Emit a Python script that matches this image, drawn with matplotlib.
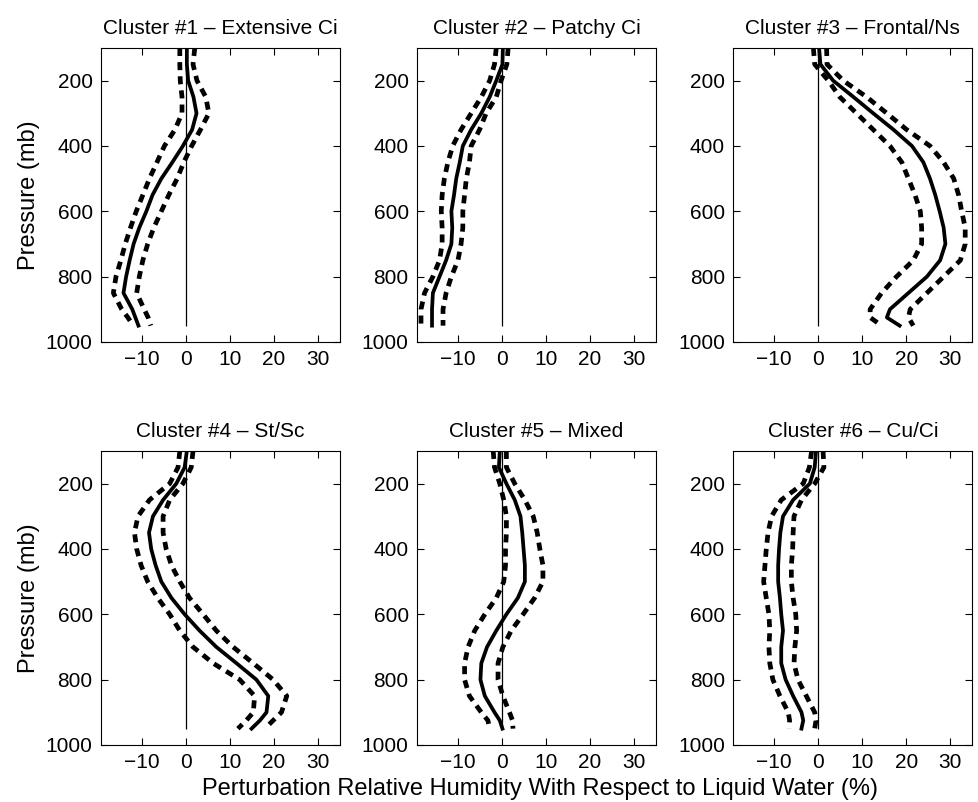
import numpy as np
import matplotlib
matplotlib.use('Agg')
import matplotlib.pyplot as plt

plt.rcParams['font.family'] = ['Liberation Sans', 'DejaVu Sans']
plt.rcParams['font.size'] = 13

# pressure levels (mb)
pres = [100, 150, 200, 250, 300, 350, 400, 450, 500, 550, 600, 650, 700, 750, 800, 850, 900, 925, 950]

titles = ['Cluster #1 \u2013 Extensive Ci', 'Cluster #2 \u2013 Patchy Ci', 'Cluster #3 \u2013 Frontal/Ns',
          'Cluster #4 \u2013 St/Sc', 'Cluster #5 \u2013 Mixed', 'Cluster #6 \u2013 Cu/Ci']

# perturbation RH (%) : mean, lower and upper bounds
c1_mean = [0.2, 0.2, 0.5, 1.7, 2.4, 1.4, -0.7, -3.1, -5.6, -7.6, -9.0, -10.6, -11.9, -12.8, -13.6, -14.2, -12.2, -11.5, -10.8]
c1_low = [-1.4, -1.4, -1.3, -0.9, -0.9, -2.5, -4.9, -6.6, -8.3, -9.8, -11.3, -12.6, -13.8, -14.8, -15.9, -16.5, -14.6, -13.2, -12.0]
c1_high = [2.0, 1.6, 2.5, 4.5, 5.2, 3.3, 1.3, -0.5, -2.0, -3.9, -5.6, -7.3, -8.7, -9.8, -10.6, -11.2, -9.5, -8.6, -8.0]

c2_mean = [0.2, 0.1, -1.3, -2.8, -4.7, -7.0, -8.9, -9.6, -10.4, -10.9, -11.5, -11.3, -11.5, -12.7, -14.2, -15.7, -15.9, -15.9, -15.9]
c2_low = [-1.3, -1.7, -2.8, -4.7, -7.0, -9.3, -11.2, -12.3, -13.1, -13.6, -13.8, -13.6, -13.6, -14.2, -15.7, -17.6, -18.4, -18.4, -18.4]
c2_high = [1.4, 1.1, -0.2, -1.3, -3.6, -5.1, -7.0, -7.4, -8.1, -8.5, -8.9, -8.9, -9.3, -10.0, -11.5, -12.7, -13.4, -13.4, -13.4]

c3_mean = [0.2, 0.5, 3.4, 8.0, 12.5, 17.1, 21.3, 23.9, 25.4, 26.6, 27.6, 28.5, 28.9, 27.7, 24.7, 20.5, 16.3, 15.6, 18.5]
c3_low = [-1.1, -0.8, 2.3, 4.9, 8.7, 12.5, 16.3, 19.0, 20.5, 22.0, 23.2, 23.5, 23.5, 21.6, 17.8, 14.4, 11.8, 11.8, 14.4]
c3_high = [1.9, 2.0, 5.7, 11.0, 15.6, 20.1, 25.4, 28.5, 30.8, 31.9, 32.6, 33.4, 33.4, 32.3, 28.5, 24.7, 20.9, 20.5, 21.6]

c4_mean = [0.2, -0.3, -2.2, -5.2, -7.5, -8.4, -7.9, -6.9, -5.6, -3.3, -0.3, 3.1, 6.9, 11.5, 16.0, 18.7, 18.3, 16.8, 14.9]
c4_low = [-1.4, -1.8, -3.7, -8.3, -10.9, -11.7, -11.2, -10.2, -8.7, -6.4, -3.7, -1.4, 1.6, 6.2, 12.2, 15.6, 15.3, 13.7, 11.8]
c4_high = [1.6, 1.2, -0.7, -3.7, -5.2, -5.2, -4.5, -3.3, -1.4, 0.8, 3.9, 6.9, 10.7, 15.3, 19.8, 22.9, 21.7, 19.8, 17.9]

c5_mean = [-0.5, -0.7, 1.0, 2.9, 4.2, 4.6, 4.9, 5.2, 5.2, 3.6, 1.0, -1.3, -3.4, -4.7, -4.9, -3.9, -1.7, -0.5, 0.1]
c5_low = [-2.0, -1.7, -0.5, 0.4, 1.0, 1.0, 0.8, 0.8, 0.4, -1.3, -3.9, -6.2, -7.7, -8.5, -8.5, -7.4, -4.7, -3.2, -2.8]
c5_high = [1.0, 1.0, 2.9, 5.2, 7.1, 8.0, 8.6, 9.3, 9.3, 7.4, 4.8, 2.1, 0.2, -0.9, -0.9, 0.2, 1.7, 2.4, 2.5]

c6_mean = [-0.5, -0.8, -1.9, -5.7, -8.0, -8.6, -8.9, -9.1, -9.1, -8.7, -8.4, -8.0, -8.4, -8.4, -7.4, -5.7, -3.8, -3.4, -3.8]
c6_low = [-1.5, -2.0, -3.4, -8.4, -10.6, -11.4, -11.8, -12.1, -12.4, -11.8, -11.2, -11.0, -11.2, -11.0, -10.3, -8.7, -6.8, -6.5, -6.6]
c6_high = [1.1, 1.3, -0.8, -3.8, -5.5, -5.7, -5.8, -6.1, -6.1, -5.7, -5.1, -4.9, -5.3, -5.5, -4.6, -2.7, -0.8, -0.5, -0.8]

means = [c1_mean, c2_mean, c3_mean, c4_mean, c5_mean, c6_mean]
lows = [c1_low, c2_low, c3_low, c4_low, c5_low, c6_low]
highs = [c1_high, c2_high, c3_high, c4_high, c5_high, c6_high]

xticks = [-10, 0, 10, 20, 30]
yticks = [200, 400, 600, 800, 1000]

fig = plt.figure(figsize=(9.79, 8.02), dpi=100)
lefts = [0.1032, 0.426, 0.749]
bottoms = [0.5736, 0.0711]
w, h = 0.2441, 0.3666

for i in range(6):
    r, c = divmod(i, 3)
    ax = fig.add_axes([lefts[c], bottoms[r], w, h])
    ax.vlines(0, pres[0], pres[-1], color='k', lw=0.9)
    ax.plot(lows[i], pres, color='k', lw=3.4, ls=(0, (1.7, 1.3)), dash_capstyle='butt')
    ax.plot(highs[i], pres, color='k', lw=3.4, ls=(0, (1.7, 1.3)), dash_capstyle='butt')
    ax.plot(means[i], pres, color='k', lw=2.7, solid_joinstyle='round')
    ax.set_xlim(-19.3, 35)
    ax.set_ylim(1000, 100)
    ax.set_xticks(xticks)
    ax.set_yticks(yticks)
    ax.tick_params(direction='in', top=True, right=True, length=5, labelsize=15, pad=6)
    ax.set_title(titles[i], fontsize=15, pad=10)
    if c == 0:
        ax.set_ylabel('Pressure (mb)', fontsize=17, labelpad=4)

fig.text(0.552, 0.003, 'Perturbation Relative Humidity With Respect to Liquid Water (%)',
         ha='center', va='bottom', fontsize=17)

fig.savefig('out.png', dpi=100)
